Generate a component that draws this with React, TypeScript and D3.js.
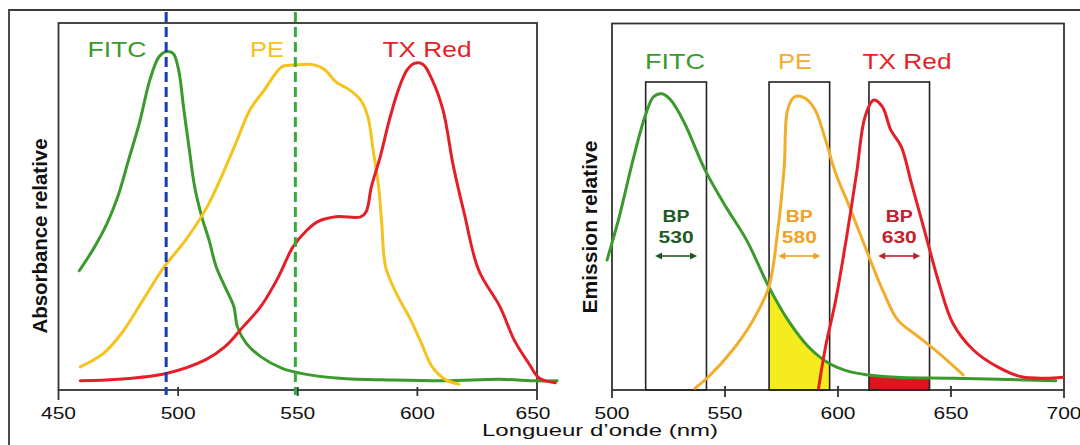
import React from "react";
import * as d3 from "d3";

// ---------- Data (wavelength nm, relative value 0-100) ----------
const absTicks = [450, 500, 550, 600, 650];
const emTicks = [500, 550, 600, 650, 700];
const dyeNames = ["FITC", "PE", "TX Red"];

const fitcAbs: [number, number][] = [
  [458.7, 32.5], [465.1, 39.0], [470.3, 45.4], [474.8, 52.7], [479.3, 62.7], [483.8, 72.7],
  [488.2, 84.5], [492.0, 90.8], [495.0, 92.2], [497.9, 91.7], [500.2, 87.2], [502.4, 76.3],
  [504.7, 65.4], [506.9, 55.4], [509.9, 47.2], [512.9, 40.9], [515.9, 33.6], [519.6, 28.1],
  [523.3, 22.7], [524.8, 17.2], [528.5, 12.7], [534.5, 9.1], [543.5, 5.9], [552.4, 4.4],
  [567.4, 3.2], [589.8, 2.7], [612.1, 2.5], [634.5, 2.9], [649.5, 2.5], [658.4, 2.5],
];
const peAbs: [number, number][] = [
  [459.1, 6.3], [468.8, 10.0], [476.3, 15.4], [485.3, 24.5], [494.2, 33.6], [503.2, 40.9],
  [512.1, 49.9], [518.1, 58.1], [524.1, 67.2], [530.0, 76.3], [536.0, 81.7], [543.5, 88.1],
  [549.4, 88.6], [556.9, 88.6], [561.4, 87.2], [565.9, 84.0], [571.8, 81.7], [576.3, 79.0],
  [579.3, 74.5], [581.5, 65.4], [583.8, 55.4], [585.2, 44.5], [586.7, 33.6], [591.2, 26.3],
  [597.2, 19.1], [601.7, 12.7], [606.2, 6.3], [612.1, 2.7], [617.4, 1.6],
];
const txAbs: [number, number][] = [
  [459.1, 2.5], [474.8, 2.9], [495.0, 4.5], [511.4, 8.2], [519.6, 11.8], [527.1, 17.2],
  [534.5, 22.7], [542.0, 30.9], [548.0, 39.0], [553.9, 43.6], [558.4, 45.9], [565.9, 47.2],
  [576.3, 47.2], [578.6, 48.6], [580.8, 55.4], [584.5, 63.6], [588.3, 73.6], [592.0, 81.7],
  [595.7, 87.2], [598.7, 89.0], [602.4, 88.7], [606.2, 84.5], [610.7, 76.3], [615.1, 60.8],
  [619.6, 48.1], [625.6, 32.7], [634.5, 22.7], [640.5, 13.6], [646.5, 7.3], [651.0, 3.2],
  [657.7, 2.0],
];

const fitcEm: [number, number][] = [
  [497.8, 35.4], [503.2, 47.2], [509.3, 62.7], [514.6, 74.5], [518.4, 79.9], [522.2, 80.7],
  [526.0, 79.0], [532.1, 72.7], [541.2, 59.9], [550.4, 49.9], [559.5, 40.9], [569.4, 28.1],
  [577.8, 19.1], [586.9, 11.8], [596.0, 7.3], [605.1, 5.0], [613.5, 4.1], [628.0, 3.4],
  [650.8, 3.2], [696.4, 2.5],
];
const peEm: [number, number][] = [
  [536.7, 0.5], [542.7, 3.6], [553.4, 10.9], [562.5, 19.1], [569.4, 28.1], [573.2, 42.7],
  [576.2, 60.8], [577.7, 76.3], [580.8, 79.9], [585.4, 79.5], [589.9, 76.3], [594.5, 68.1],
  [599.0, 59.0], [605.1, 49.9], [614.3, 35.4], [620.4, 26.3], [626.4, 19.1], [635.6, 14.5],
  [644.7, 10.0], [655.4, 4.1],
];
const txEm: [number, number][] = [
  [591.4, 0.5], [594.5, 11.8], [599.0, 24.5], [603.6, 40.9], [608.2, 59.0], [612.0, 74.5],
  [615.8, 79.0], [619.6, 77.2], [623.4, 70.8], [628.0, 66.3], [632.5, 56.3], [638.6, 42.7],
  [644.7, 29.1], [650.8, 18.2], [659.9, 10.9], [670.6, 6.3], [681.2, 3.6], [691.9, 3.2],
  [699.5, 3.5],
];

// band-pass filters: [from nm, to nm], label
const filterLo = [514.9, 569.5, 613.7];
const filterHi = [541.8, 596.3, 640.5];
const filterNames = ["530", "580", "630"];
// excitation lasers (nm)
const laserLines = [495, 549];

// ---------- Styles ----------
const GREEN = "#3a9a2c";
const GOLD_L = "#f6c21c";
const GOLD_R = "#f2ad2a";
const RED = "#e51f27";
const FONT = "'Liberation Sans', Arial, Helvetica, sans-serif";

export default function App() {
  const W = 1080, H = 445;
  const axisY = 390;
  const xL = d3.scaleLinear().domain([450, 650]).range([58.5, 537]);
  const xR = d3.scaleLinear().domain([500, 700]).range([612, 1064]);
  const y = d3.scaleLinear().domain([0, 100]).range([axisY, 23]);

  const lineL = d3.line<[number, number]>().x(d => xL(d[0])).y(d => y(d[1])).curve(d3.curveCatmullRom.alpha(0.5));
  const lineR = d3.line<[number, number]>().x(d => xR(d[0])).y(d => y(d[1])).curve(d3.curveCatmullRom.alpha(0.5));
  const areaR = d3.area<[number, number]>().x(d => xR(d[0])).y0(axisY).y1(d => y(d[1])).curve(d3.curveCatmullRom.alpha(0.5));

  const absColors = [GREEN, GOLD_L, RED];
  const emColors = [GREEN, GOLD_R, RED];
  const bpColors = ["#1f5a24", "#f0a224", "#c3202c"];

  const tickLabel = (x: number, t: number, k: string, dx = 0) => (
    <text key={k} x={x + dx} y={419} textAnchor="middle" fontSize={16} fontFamily={FONT}
      textLength={35} lengthAdjust="spacingAndGlyphs" fill="#111">{t}</text>
  );

  const arrow = (cx: number, yy: number, color: string, k: string) => {
    const half = 21, ah = 7, aw = 3.5;
    const x0 = cx - half, x1 = cx + half;
    return (
      <g key={k}>
        <line x1={x0 + ah - 1} x2={x1 - ah + 1} y1={yy} y2={yy} stroke={color} strokeWidth={1.6} />
        <polygon points={`${x0},${yy} ${x0 + ah},${yy - aw} ${x0 + ah},${yy + aw}`} fill={color} />
        <polygon points={`${x1},${yy} ${x1 - ah},${yy - aw} ${x1 - ah},${yy + aw}`} fill={color} />
      </g>
    );
  };

  return (
    <svg width={W} height={H} style={{ position: "absolute", left: 0, top: 0, background: "#fff" }}>
      <rect x={0} y={0} width={W} height={H} fill="#fff" />
      <defs>
        {filterLo.map((lo, i) => (
          <clipPath id={`bp${i}`} key={i}>
            <rect x={xR(lo)} y={0} width={xR(filterHi[i]) - xR(lo)} height={axisY} />
          </clipPath>
        ))}
      </defs>
      {/* outer frame */}
      <path d={`M9,${H} L9,10 L${W},10`} fill="none" stroke="#3a3a3a" strokeWidth={1.8} />

      {/* ---------- LEFT PANEL: absorbance ---------- */}
      <rect x={xL(450)} y={y(100)} width={xL(650) - xL(450)} height={axisY - y(100)} fill="none" stroke="#333" strokeWidth={1.8} />
      {[450, 650].map(t => (
        <line key={`le${t}`} x1={xL(t)} x2={xL(t)} y1={axisY} y2={axisY + 10} stroke="#333" strokeWidth={1.8} />
      ))}
      {absTicks.filter(t => t !== 450 && t !== 650).map(t => (
        <line key={`lt${t}`} x1={xL(t)} x2={xL(t)} y1={axisY - 3} y2={axisY + 6} stroke="#333" strokeWidth={1.8} />
      ))}
      {absTicks.map(t => tickLabel(xL(t), t, `ll${t}`, t === 650 ? -4 : 0))}

      {[fitcAbs, peAbs, txAbs].map((d, i) => (
        <path key={`abs${i}`} d={lineL(d) || ""} fill="none" stroke={absColors[i]} strokeWidth={3} strokeLinejoin="round" strokeLinecap="round" />
      ))}
      {laserLines.map((l, i) => (
        <line key={`las${i}`} x1={xL(l)} x2={xL(l)} y1={12} y2={395}
          stroke={i === 0 ? "#1b3db3" : "#3aa83a"} strokeWidth={3} strokeDasharray="10,5" />
      ))}
      {[117, 267, 427].map((cx, i) => (
        <text key={`ln${i}`} x={cx} y={57} textAnchor="middle" fontSize={22} fontFamily={FONT}
          fill={absColors[i]} textLength={[59, 34, 89][i]} lengthAdjust="spacingAndGlyphs">{dyeNames[i]}</text>
      ))}
      <text transform={`translate(47,236) rotate(-90)`} textAnchor="middle" fontSize={21} fontWeight="bold"
        fontFamily={FONT} fill="#111" textLength={195} lengthAdjust="spacingAndGlyphs">Absorbance relative</text>

      {/* ---------- RIGHT PANEL: emission ---------- */}
      <g clipPath="url(#bp1)">
        <path d={areaR(fitcEm) || ""} fill="#f4ec1e" />
      </g>
      <g clipPath="url(#bp2)">
        <path d={areaR(fitcEm) || ""} fill="#e0141c" />
      </g>
      <rect x={xR(500)} y={y(100) + 0.5} width={xR(700) - xR(500)} height={axisY - y(100) - 0.5} fill="none" stroke="#333" strokeWidth={1.8} />
      {[500, 700].map(t => (
        <line key={`re${t}`} x1={xR(t)} x2={xR(t)} y1={axisY} y2={axisY + 8} stroke="#333" strokeWidth={1.8} />
      ))}
      {emTicks.filter(t => t !== 500 && t !== 700).map(t => (
        <line key={`rt${t}`} x1={xR(t)} x2={xR(t)} y1={axisY - 4} y2={axisY + 7} stroke="#333" strokeWidth={1.8} />
      ))}
      {emTicks.map(t => tickLabel(xR(t), t, `rl${t}`))}

      {filterLo.map((lo, i) => (
        <rect key={`box${i}`} x={xR(lo)} y={82} width={xR(filterHi[i]) - xR(lo)} height={axisY - 82}
          fill="none" stroke="#222" strokeWidth={1.6} />
      ))}
      {[fitcEm, peEm, txEm].map((d, i) => (
        <path key={`em${i}`} d={lineR(d) || ""} fill="none" stroke={emColors[i]} strokeWidth={3} strokeLinejoin="round" strokeLinecap="round" />
      ))}
      {filterLo.map((lo, i) => {
        const cx = (xR(lo) + xR(filterHi[i])) / 2;
        return (
          <g key={`bpl${i}`}>
            <text x={cx} y={222} textAnchor="middle" fontSize={16} fontWeight="bold" fontFamily={FONT}
              fill={bpColors[i]} textLength={27} lengthAdjust="spacingAndGlyphs">BP</text>
            <text x={cx} y={243} textAnchor="middle" fontSize={16} fontWeight="bold" fontFamily={FONT}
              fill={bpColors[i]} textLength={35} lengthAdjust="spacingAndGlyphs">{filterNames[i]}</text>
            {arrow(cx, 256, bpColors[i], `ar${i}`)}
          </g>
        );
      })}
      {[675, 795, 907].map((cx, i) => (
        <text key={`rn${i}`} x={cx} y={69} textAnchor="middle" fontSize={22} fontFamily={FONT}
          fill={emColors[i]} textLength={[60, 34, 89][i]} lengthAdjust="spacingAndGlyphs">{dyeNames[i]}</text>
      ))}
      <text transform={`translate(597,227) rotate(-90)`} textAnchor="middle" fontSize={21} fontWeight="bold"
        fontFamily={FONT} fill="#111" textLength={173} lengthAdjust="spacingAndGlyphs">Emission relative</text>

      <text x={600} y={436} textAnchor="middle" fontSize={16} fontFamily={FONT} fill="#111"
        textLength={236} lengthAdjust="spacingAndGlyphs">Longueur d’onde (nm)</text>
    </svg>
  );
}
